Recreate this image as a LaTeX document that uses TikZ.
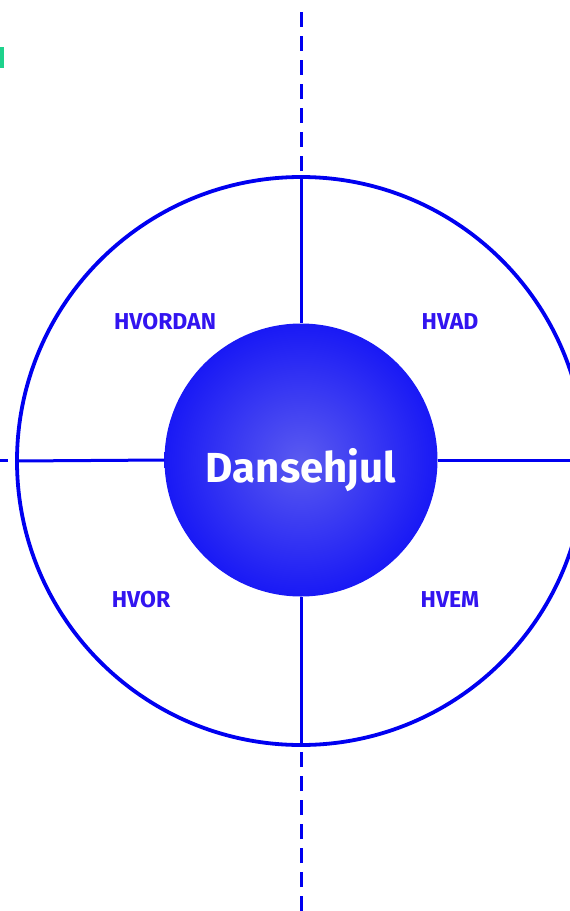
\documentclass[tikz,border=0pt]{standalone}
\usepackage{fontspec}
\setmainfont{Fira Sans}
\usetikzlibrary{shadings}
\definecolor{wheelblue}{RGB}{0,0,240}
\definecolor{hubout}{RGB}{25,25,245}
\definecolor{hubin}{RGB}{90,90,240}
\definecolor{labelblue}{RGB}{50,20,240}
\definecolor{markgreen}{RGB}{30,210,140}
\tikzset{
  wheel/.style={circle, draw=wheelblue, line width=3.8pt, minimum size=568pt, inner sep=0pt},
  hub/.style={circle, inner color=hubin, outer color=hubout, minimum size=273pt, inner sep=0pt},
  spoke/.style={draw=wheelblue, line width=3pt},
  axis/.style={draw=wheelblue, line width=3pt, dash pattern=on 15pt off 9pt},
  qlabel/.style={text=labelblue, font=\fontsize{23}{23}\selectfont\bfseries, inner sep=0pt}
}
\begin{document}
\begin{tikzpicture}[x=1pt,y=-1pt]
\useasboundingbox (0,0) rectangle (570,911);
\clip (0,0) rectangle (570,911);
\fill[markgreen] (0,47) rectangle (3.5,68);
\node[wheel] (wheel) at (301,461) {};
\coordinate (top) at (301,12);
\coordinate (bottom) at (301,911);
\coordinate (leftend) at (0,460);
\coordinate (leftstub) at (8,460);
\coordinate (rightend) at (570,460);
\draw[axis] (top) -- (wheel.north);
\draw[axis] (bottom) -- ([yshift=9pt]wheel.south);
\draw[spoke] (leftend) -- (leftstub);
\node[hub] (hub) at (301,460) {};
\draw[spoke] (wheel.north) -- (hub.north);
\draw[spoke] (wheel.south) -- (hub.south);
\draw[spoke] (wheel.west) -- (hub.west);
\draw[spoke] (hub.east) -- (rightend);
\node[text=white, font=\fontsize{42}{42}\selectfont\bfseries, anchor=base] (title) at (301,482) {Dansehjul};
\node[qlabel] (hvordan) at (165,322) {HVORDAN};
\node[qlabel] (hvad) at (450,322) {HVAD};
\node[qlabel] (hvor) at (141,600) {HVOR};
\node[qlabel] (hvem) at (450,600) {HVEM};
\end{tikzpicture}
\end{document}
